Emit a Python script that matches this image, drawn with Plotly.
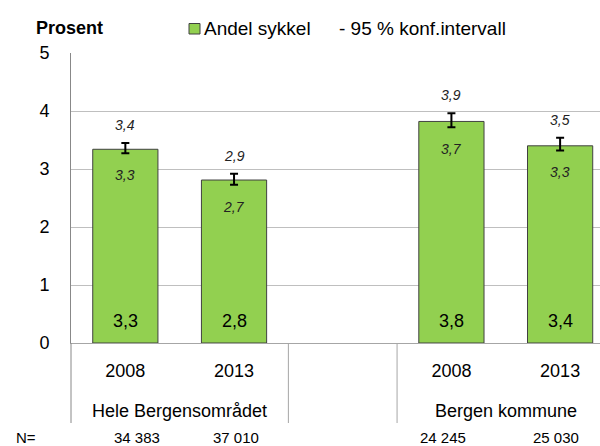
import plotly.graph_objects as go

# ---- data ----
categories = [0, 1, 3, 4]
years = ["2008", "2013", "2008", "2013"]
groups = ["Hele Bergensområdet", "Bergen kommune"]
group_pos = [0.5, 3.5]
values = [3.34, 2.81, 3.82, 3.40]
value_labels = ["3,3", "2,8", "3,8", "3,4"]
ci_upper = [3.45, 2.92, 3.96, 3.54]
ci_lower = [3.27, 2.73, 3.72, 3.32]
upper_labels = ["3,4", "2,9", "3,9", "3,5"]
lower_labels = ["3,3", "2,7", "3,7", "3,3"]
n_labels = ["34 383", "37 010", "24 245", "25 030"]
n_shift = [12, 2, -8, -4]

FONT = "Liberation Sans, Arial, sans-serif"
GREEN = "#92D050"

W, H = 600, 446
ml, mr, mt, mb = 71, 0, 53, 103
pw, ph = W - ml - mr, H - mt - mb


def px(x):
    return (x - ml) / pw


def py(y):
    return (H - mb - y) / ph


fig = go.Figure()
fig.add_trace(go.Bar(
    x=categories, y=values, width=0.6,
    marker=dict(color=GREEN, line=dict(color="#404040", width=1)),
    error_y=dict(type="data", symmetric=False,
                 array=[u - v for u, v in zip(ci_upper, values)],
                 arrayminus=[v - l for v, l in zip(values, ci_lower)],
                 color="black", thickness=2, width=4),
    showlegend=False, hoverinfo="skip",
))

ann = []
for x, v, t in zip(categories, values, value_labels):
    ann.append(dict(x=x, y=0, text=t, showarrow=False, xanchor="center", yanchor="middle",
                    yshift=22, font=dict(family=FONT, size=18, color="black")))
for x, u, t in zip(categories, ci_upper, upper_labels):
    ann.append(dict(x=x, y=u, text=f"<i>{t}</i>", showarrow=False, xanchor="center",
                    yanchor="middle", yshift=18, font=dict(family=FONT, size=14, color="#222")))
for x, l, t in zip(categories, ci_lower, lower_labels):
    ann.append(dict(x=x, y=l, text=f"<i>{t}</i>", showarrow=False, xanchor="center",
                    yanchor="middle", yshift=-22, font=dict(family=FONT, size=14, color="#222")))
for gx, g in zip(group_pos, groups):
    ann.append(dict(x=gx, y=py(411), yref="paper", text=g, showarrow=False, xanchor="center",
                    yanchor="middle", font=dict(family=FONT, size=18, color="black")))
ann.append(dict(x=px(26), xref="paper", y=py(437), yref="paper", text="N=", xanchor="center",
                showarrow=False, yanchor="middle", font=dict(family=FONT, size=15, color="black")))
for x, t, s in zip(categories, n_labels, n_shift):
    ann.append(dict(x=x, y=py(437), yref="paper", text=t, showarrow=False, xshift=s,
                    xanchor="center", yanchor="middle",
                    font=dict(family=FONT, size=15, color="black")))
# title + legend
ann.append(dict(x=px(69), xref="paper", y=py(28), yref="paper", text="<b>Prosent</b>",
                showarrow=False, xanchor="center", yanchor="middle",
                font=dict(family=FONT, size=18, color="black")))
ann.append(dict(x=px(202), y=py(28.5), xref="paper", yref="paper", xanchor="left",
                yanchor="middle", text="Andel sykkel", showarrow=False,
                font=dict(family=FONT, size=19, color="black")))
ann.append(dict(x=px(337), y=py(28.5), xref="paper", yref="paper", xanchor="left",
                yanchor="middle", text="- 95 % konf.intervall", showarrow=False,
                font=dict(family=FONT, size=19, color="black")))
fig.update_layout(annotations=ann)

shapes = []
for xd in [1.5, 2.5]:
    shapes.append(dict(type="line", x0=xd, x1=xd, xref="x", y0=0, y1=py(423), yref="paper",
                       line=dict(color="#A6A6A6", width=1)))
shapes.append(dict(type="line", x0=0, x1=0, xref="paper", y0=0, y1=py(423), yref="paper",
                   line=dict(color="#888888", width=1)))
shapes.append(dict(type="rect", xref="paper", yref="paper", x0=px(189), x1=px(200),
                   y0=py(34), y1=py(23.5), fillcolor=GREEN, line=dict(color="#404040", width=1)))
fig.update_layout(shapes=shapes)

fig.update_layout(
    width=W, height=H, margin=dict(l=ml, r=mr, t=mt, b=mb, pad=0),
    paper_bgcolor="white", plot_bgcolor="white", bargap=0.4,
    xaxis=dict(range=[-0.5, 4.367], tickvals=categories, ticktext=years,
               showgrid=False, zeroline=False, showline=True, linecolor="#A6A6A6",
               ticks="", ticklabelstandoff=11,
               tickfont=dict(family=FONT, size=18, color="black")),
    yaxis=dict(range=[0, 5], dtick=1, showgrid=True, gridcolor="#BFBFBF",
               zeroline=False, showline=True, linecolor="#888888", ticks="",
               ticklabelstandoff=17,
               tickfont=dict(family=FONT, size=18, color="black")),
)
fig.write_html("out.html", config={"displayModeBar": False},
               post_script="document.body.style.margin='0px';document.body.style.padding='0px';")
